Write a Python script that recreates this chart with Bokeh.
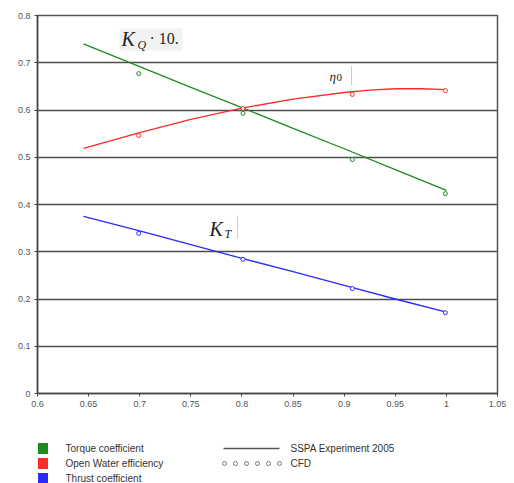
from bokeh.plotting import figure
from bokeh.models import Range1d, FixedTicker, Label
from bokeh.layouts import column
from bokeh.embed import file_html
from bokeh.resources import INLINE
from bokeh.core.properties import value

# SSPA Experiment 2005 (lines)
j_line = [0.645, 0.7, 0.75, 0.8, 0.85, 0.9, 0.95, 1.0]
kq10_line = [0.740, 0.692, 0.648, 0.605, 0.561, 0.518, 0.474, 0.430]
kt_line = [0.375, 0.344, 0.315, 0.286, 0.258, 0.229, 0.200, 0.172]
j_eta = [0.645, 0.7, 0.75, 0.8, 0.85, 0.9, 0.925, 0.95, 0.975, 1.0]
eta_line = [0.519, 0.552, 0.580, 0.604, 0.623, 0.637, 0.642, 0.645, 0.645, 0.643]

# CFD (points)
j_cfd = [0.699, 0.801, 0.908, 0.999]
kq10_cfd = [0.677, 0.593, 0.495, 0.423]
eta_cfd = [0.546, 0.603, 0.633, 0.641]
kt_cfd = [0.339, 0.284, 0.222, 0.171]

x_ticks = [0.6, 0.65, 0.7, 0.75, 0.8, 0.85, 0.9, 0.95, 1.0, 1.05]
x_labels = ["0.6", "0.65", "0.7", "0.75", "0.8", "0.85", "0.9", "0.95", "1", "1.05"]
y_ticks = [0, 0.1, 0.2, 0.3, 0.4, 0.5, 0.6, 0.7, 0.8]
y_labels = ["0", "0.1", "0.2", "0.3", "0.4", "0.5", "0.6", "0.7", "0.8"]

GREEN = "#1f8a1f"
RED = "#ff2a2a"
BLUE = "#2a2aff"

p = figure(width=506, height=423, x_range=Range1d(0.6, 1.05), y_range=Range1d(0, 0.8),
           output_backend="svg", toolbar_location=None,
           min_border_left=37, min_border_right=9, min_border_top=15, min_border_bottom=30)
p.outline_line_color = "#555555"
p.outline_line_width = 1.5
p.xgrid.visible = False
p.ygrid.grid_line_color = "#4d4d4d"
p.ygrid.grid_line_width = 1.6
p.ygrid.ticker = FixedTicker(ticks=y_ticks)

for ax in (p.xaxis[0], p.yaxis[0]):
    ax.axis_line_color = "#444444"
    ax.axis_line_width = 1.5
    ax.major_tick_line_color = "#444444"
    ax.major_tick_in = 0
    ax.major_tick_out = 3
    ax.minor_tick_line_color = None
    ax.major_label_text_font = "Liberation Sans"
    ax.major_label_text_font_size = "9px"
    ax.major_label_text_color = "#555555"
    ax.major_label_standoff = 4

p.xaxis[0].ticker = FixedTicker(ticks=x_ticks)
p.xaxis[0].major_label_overrides = dict(zip(x_ticks, x_labels))
p.yaxis[0].ticker = FixedTicker(ticks=y_ticks)
p.yaxis[0].major_label_overrides = dict(zip(y_ticks, y_labels))

# faint box behind K_Q label
p.quad(left=[0.6802], right=[0.7418], top=[0.7725], bottom=[0.7259],
       fill_color="#f2f2f2", line_color=None)

p.line(j_line, kq10_line, line_color=GREEN, line_width=1.3)
p.line(j_eta, eta_line, line_color=RED, line_width=1.3)
p.line(j_line, kt_line, line_color=BLUE, line_width=1.3)

p.scatter(j_cfd, kq10_cfd, marker="circle", size=4, fill_color="white", line_color=GREEN, line_width=1)
p.scatter(j_cfd, eta_cfd, marker="circle", size=4, fill_color="white", line_color=RED, line_width=1)
p.scatter(j_cfd, kt_cfd, marker="circle", size=4, fill_color="white", line_color=BLUE, line_width=1)

serif = value("Liberation Serif")
# K_Q . 10.
p.text(x=[0.6822], y=[0.7513], text=["K"], text_font=serif, text_font_style="italic",
       text_font_size="20px", text_color="#222222", text_align="left", text_baseline="middle")
p.text(x=[0.6978], y=[0.7370], text=["Q"], text_font=serif, text_font_style="italic",
       text_font_size="12px", text_color="#222222", text_align="left", text_baseline="middle")
p.text(x=[0.7096], y=[0.7513], text=["· 10."], text_font=serif, text_font_style="normal",
       text_font_size="16px", text_color="#222222", text_align="left", text_baseline="middle")
# eta_0
p.text(x=[0.8857], y=[0.6709], text=["η"], text_font=serif, text_font_style="italic",
       text_font_size="13px", text_color="#222222", text_align="left", text_baseline="middle")
p.text(x=[0.8925], y=[0.6680], text=["0"], text_font=serif, text_font_style="normal",
       text_font_size="11px", text_color="#222222", text_align="left", text_baseline="middle")
p.segment(x0=[0.9072], y0=[0.694], x1=[0.9072], y1=[0.652], line_color="#cccccc", line_width=1)
# K_T
p.text(x=[0.7682], y=[0.3492], text=["K"], text_font=serif, text_font_style="italic",
       text_font_size="20px", text_color="#222222", text_align="left", text_baseline="middle")
p.text(x=[0.7829], y=[0.3370], text=["T"], text_font=serif, text_font_style="italic",
       text_font_size="12px", text_color="#222222", text_align="left", text_baseline="middle")
p.segment(x0=[0.7957], y0=[0.3767], x1=[0.7957], y1=[0.328], line_color="#cccccc", line_width=1)

p.add_layout(Label(x=1.053, y=-0.044, text="[J]", text_font="Liberation Sans",
                   text_font_style="bold", text_font_size="11px", text_color="#111111",
                   text_align="center", text_baseline="middle"))

# Legend figure (its frame is aligned with the chart frame: page x 37..497)
leg_names = ["Torque coefficient", "Open Water efficiency", "Thrust coefficient"]
leg_colors = [GREEN, RED, BLUE]
leg_rows = [25, 40, 55]

lg = figure(width=506, height=60, x_range=Range1d(37, 497), y_range=Range1d(60, 0),
            output_backend="svg", toolbar_location=None, min_border=0)
lg.axis.visible = False
lg.grid.visible = False
lg.outline_line_color = None

lg.rect(x=[42.5] * 3, y=leg_rows, width=10, height=11, fill_color=leg_colors, line_color=None)
lg.text(x=[65] * 3, y=leg_rows, text=leg_names, text_font=value("Liberation Sans"),
        text_font_size="10px", text_color="#333333", text_align="left", text_baseline="middle")
lg.segment(x0=[223], y0=[25], x1=[279], y1=[25], line_color="#555555", line_width=1.5)
lg.scatter(x=[224, 235, 246, 257, 268, 279], y=[40] * 6, marker="circle", size=4,
           fill_color="white", line_color="#777777", line_width=1)
lg.text(x=[290, 290], y=[25, 40], text=["SSPA Experiment 2005", "CFD"],
        text_font=value("Liberation Sans"), text_font_size="10px", text_color="#333333",
        text_align="left", text_baseline="middle")

layout = column(p, lg, spacing=0)
open("out.html", "w").write(file_html(layout, INLINE))
